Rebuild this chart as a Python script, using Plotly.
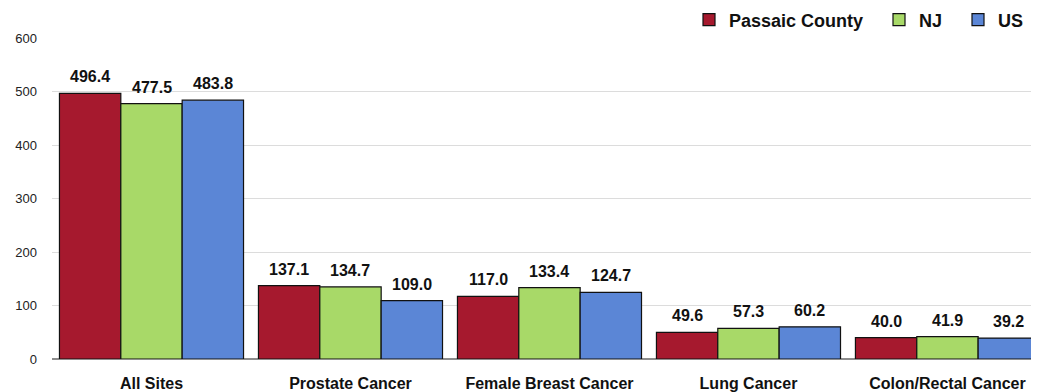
import plotly.graph_objects as go

categories = ["All Sites", "Prostate Cancer", "Female Breast Cancer", "Lung Cancer", "Colon/Rectal Cancer"]
passaic = [496.4, 137.1, 117.0, 49.6, 40.0]
nj = [477.5, 134.7, 133.4, 57.3, 41.9]
us = [483.8, 109.0, 124.7, 60.2, 39.2]
series_names = ["Passaic County", "NJ", "US"]
series_values = [passaic, nj, us]
colors = ["#A6192E", "#A8D968", "#5B86D6"]
y_ticks = [0, 100, 200, 300, 400, 500, 600]

FONT = "Liberation Sans, Arial, sans-serif"
# the page body has an 8px margin, so the figure is drawn 8px to the right and down
W, H = 1031, 384
bargap = 0.075
legend_ids = ["legend", "legend2", "legend3"]
legend_x = [681, 871, 950]  # figure px of each legend box

fig = go.Figure()
for name, vals, col, lid in zip(series_names, series_values, colors, legend_ids):
    fig.add_trace(go.Bar(
        name=name, x=list(range(len(categories))), y=vals, legend=lid,
        marker=dict(color=col, line=dict(color="#111111", width=1.2)),
    ))

w = (1 - bargap) / 3
annotations = []
for j, vals in enumerate(series_values):
    for i, v in enumerate(vals):
        annotations.append(dict(
            x=i + (j - 1) * w, y=v, xref="x", yref="y",
            text=f"{v:.1f}", showarrow=False, yanchor="bottom", yshift=6,
            font=dict(family=FONT, size=16, color="#111111", weight="bold"),
        ))

legend_style = dict(font=dict(family=FONT, size=18, color="#111111", weight="bold"),
                    xref="container", yref="container", xanchor="left", yanchor="middle",
                    y=1 - 12 / H, bgcolor="rgba(0,0,0,0)", borderwidth=0)
legends = {}
for lid, lx in zip(legend_ids, legend_x):
    legends[lid] = dict(legend_style, x=lx / W)

fig.update_layout(
    width=W, height=H,
    margin=dict(l=44, r=0, t=30, b=33, autoexpand=False),
    paper_bgcolor="white", plot_bgcolor="white",
    barmode="group", bargap=bargap, bargroupgap=0,
    annotations=annotations,
    showlegend=True,
    xaxis=dict(
        tickmode="array", tickvals=list(range(len(categories))), ticktext=categories,
        range=[-0.5, 4.46], showgrid=False, zeroline=False,
        ticks="outside", ticklen=10, tickcolor="rgba(0,0,0,0)",
        tickfont=dict(family=FONT, size=16, color="#111111", weight="bold"),
        showline=False,
    ),
    yaxis=dict(
        range=[0, 600], tickvals=y_ticks, showgrid=True, gridcolor="#DCDCDC", gridwidth=1,
        zeroline=True, zerolinecolor="#8C8C8C", zerolinewidth=1.5,
        tickfont=dict(family=FONT, size=13, color="#222222"),
        ticks="", ticklabelstandoff=14,
    ),
    font=dict(family=FONT),
    **legends,
)

fig.write_html("out.html")
